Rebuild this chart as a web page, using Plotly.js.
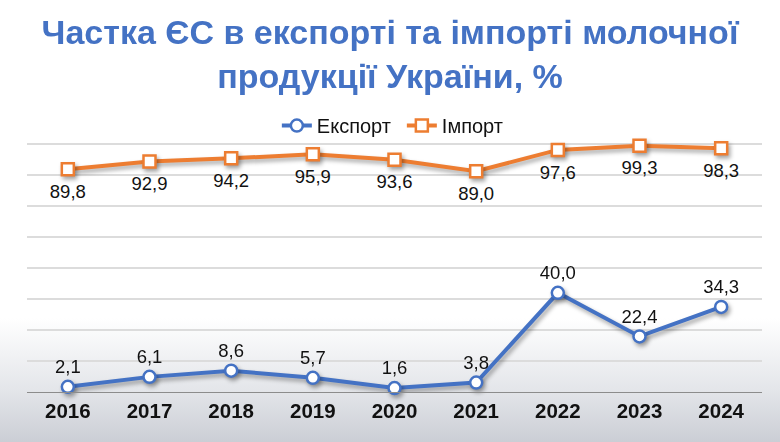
<!DOCTYPE html>
<html>
<head>
<meta charset="utf-8">
<script src="https://cdn.plot.ly/plotly-3.0.1.min.js"></script>
<style>
  html, body { margin: 0; padding: 0; }
  #chart {
    width: 780px;
    height: 442px;
    background: linear-gradient(to bottom, #ffffff 0%, #ffffff 72%, #e4e6ea 88%, #cbced5 100%);
  }
  #chart .scatterlayer .trace .js-line,
  #chart .scatterlayer .trace .points { filter: drop-shadow(2px 3px 2px rgba(0,0,0,0.35)); }
</style>
</head>
<body>
<div id="chart"></div>
<script>
var years = ['2016', '2017', '2018', '2019', '2020', '2021', '2022', '2023', '2024'];
var exportShare = [2.1, 6.1, 8.6, 5.7, 1.6, 3.8, 40.0, 22.4, 34.3];
var importShare = [89.8, 92.9, 94.2, 95.9, 93.6, 89.0, 97.6, 99.3, 98.3];

var fontFam = 'Liberation Sans, Arial, sans-serif';

function fmt(v) { return v.toFixed(1).replace('.', ','); }

var exportTrace =
{
    name: 'Експорт',
    type: 'scatter',
    mode: 'lines+markers',
    x: years,
    y: exportShare,
    line: { color: '#4472C4', width: 4 },
    marker: { symbol: 'circle', size: 12, color: '#ffffff', line: { color: '#4472C4', width: 2.5 } },
    hoverinfo: 'x+y',
    cliponaxis: false
};

var importTrace =
{
    name: 'Імпорт',
    type: 'scatter',
    mode: 'lines+markers',
    x: years,
    y: importShare,
    line: { color: '#ED7D31', width: 4 },
    marker: { symbol: 'square', size: 12, color: '#ffffff', line: { color: '#ED7D31', width: 2.5 } },
    hoverinfo: 'x+y',
    cliponaxis: false
};

// value labels, kept apart so they sit a bit further from the points
var exportLabels =
{
    type: 'scatter',
    mode: 'markers+text',
    x: years,
    y: exportShare,
    text: exportShare.map(fmt),
    textposition: 'top center',
    textfont: { family: fontFam, size: 18.5, color: '#111' },
    marker: { size: 13, opacity: 0 },
    showlegend: false,
    hoverinfo: 'skip',
    cliponaxis: false
};

var importLabels =
{
    type: 'scatter',
    mode: 'markers+text',
    x: years,
    y: importShare,
    text: importShare.map(fmt),
    textposition: 'bottom center',
    textfont: { family: fontFam, size: 18.5, color: '#111' },
    marker: { size: 22, opacity: 0 },
    showlegend: false,
    hoverinfo: 'skip',
    cliponaxis: false
};

var layout =
{
    width: 780,
    height: 442,
    paper_bgcolor: 'rgba(0,0,0,0)',
    plot_bgcolor: 'rgba(0,0,0,0)',
    margin: { l: 27, r: 18, t: 139, b: 50 },
    title:
    {
        text: 'Частка ЄС в експорті та імпорті молочної<br>продукції України, %',
        font: { family: fontFam, size: 34, color: '#4472C4', weight: 'bold' },
        x: 0.5,
        xanchor: 'center',
        y: 0.9,
        yanchor: 'top'
    },
    showlegend: true,
    legend:
    {
        orientation: 'h',
        x: 0.51,
        xanchor: 'center',
        y: 1.053,
        yanchor: 'middle',
        font: { family: fontFam, size: 20, color: '#111' },
        bgcolor: 'rgba(0,0,0,0)',
        itemwidth: 30,
        entrywidth: 80,
        traceorder: 'normal'
    },
    xaxis:
    {
        type: 'category',
        range: [-0.5, 8.5],
        showgrid: false,
        showline: true,
        linecolor: '#8c8c8c',
        linewidth: 1,
        ticks: '',
        tickfont: { family: fontFam, size: 20.5, color: '#111', weight: 'bold' },
        fixedrange: true
    },
    yaxis:
    {
        range: [0, 102],
        dtick: 12.5,
        showgrid: true,
        gridcolor: '#dcdcdc',
        gridwidth: 1.3,
        zeroline: false,
        showticklabels: false,
        ticks: '',
        fixedrange: true
    }
};

Plotly.newPlot('chart', [exportTrace, importTrace, exportLabels, importLabels], layout, { displayModeBar: false, staticPlot: true });
</script>
</body>
</html>
